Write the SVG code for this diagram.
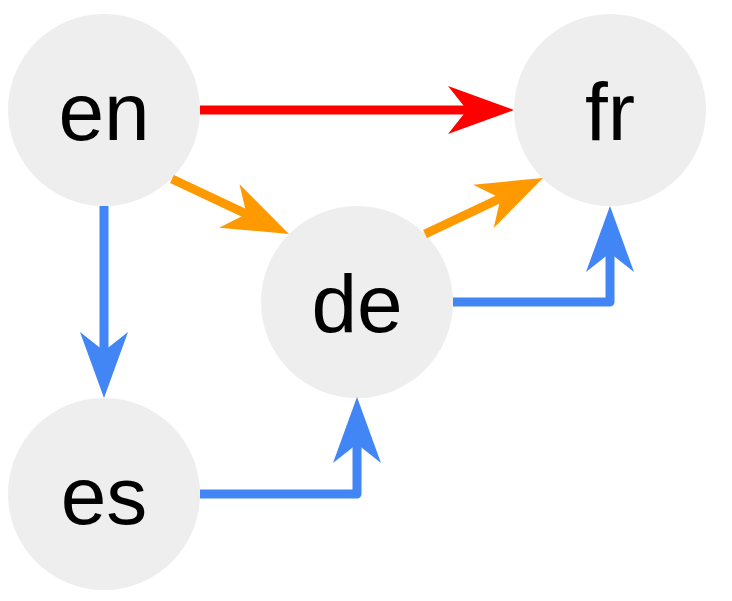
<svg xmlns="http://www.w3.org/2000/svg" width="732" height="601" viewBox="0 0 732 601">
<style>
.node circle{fill:#eeeeee}
.node text{font-family:"Liberation Sans",Arial,sans-serif;font-size:82px;fill:#000;text-anchor:middle}
.edge{fill:none;stroke-width:9;stroke-linejoin:round}
.red{stroke:#ff0000}
.orange{stroke:#ff9900}
.blue{stroke:#4285f4}
</style>
<defs>
<marker id="ar" markerUnits="userSpaceOnUse" viewBox="-30 -30 80 60" markerWidth="80" markerHeight="60" refX="0" refY="0" orient="auto" overflow="visible">
<path d="M-26,-24 L40,0 L-26,24 L-7,0 Z" fill="#ff0000"/>
</marker>
<marker id="ao" markerUnits="userSpaceOnUse" viewBox="-30 -30 80 60" markerWidth="80" markerHeight="60" refX="0" refY="0" orient="auto" overflow="visible">
<path d="M-26,-24 L40,0 L-26,24 L-7,0 Z" fill="#ff9900"/>
</marker>
<marker id="ab" markerUnits="userSpaceOnUse" viewBox="-30 -30 80 60" markerWidth="80" markerHeight="60" refX="0" refY="0" orient="auto" overflow="visible">
<path d="M-26,-24 L40,0 L-26,24 L-7,0 Z" fill="#4285f4"/>
</marker>
</defs>
<g id="node-en" class="node"><circle cx="104" cy="110" r="96"/><text x="104" y="140">en</text></g>
<g id="node-fr" class="node"><circle cx="610" cy="110" r="96"/><text x="610" y="140">fr</text></g>
<g id="node-de" class="node"><circle cx="357" cy="302" r="96"/><text x="357" y="332">de</text></g>
<g id="node-es" class="node"><circle cx="104" cy="494" r="96"/><text x="104" y="524">es</text></g>
<g id="connectors">
<path class="edge red" d="M200,110 L474,110" marker-end="url(#ar)"/>
<path class="edge orange" d="M172,179 L252.8,217" marker-end="url(#ao)"/>
<path class="edge orange" d="M425,234 L506.9,195.2" marker-end="url(#ao)"/>
<path class="edge blue" d="M104,206 L104,358" marker-end="url(#ab)"/>
<path class="edge blue" d="M200,494 L357,494 L357,437" marker-end="url(#ab)"/>
<path class="edge blue" d="M453,302 L610,302 L610,246" marker-end="url(#ab)"/>
</g>
</svg>
